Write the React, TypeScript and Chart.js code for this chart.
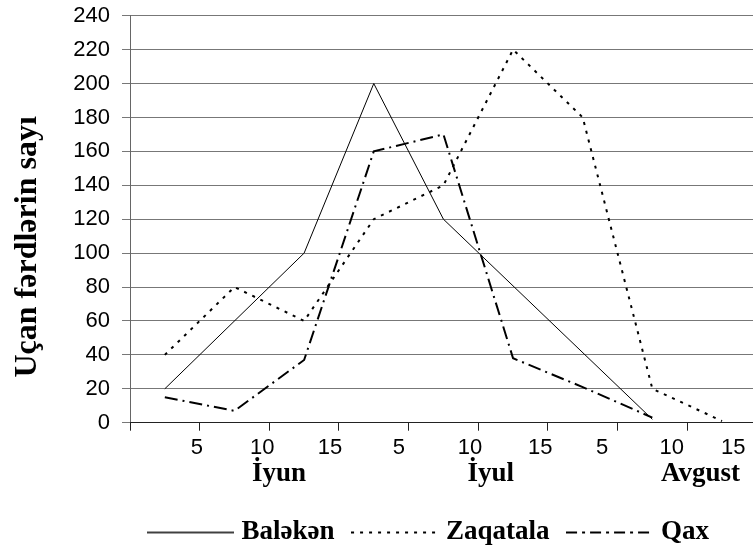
import { useEffect, useRef } from "react";
import { Chart, registerables } from "chart.js";

Chart.register(...registerables);

// Pentads (data points sit between the axis tick marks)
const CATEGORIES = ["1", "2", "3", "4", "5", "6", "7", "8", "9"];
const BALAKEN: (number | null)[] = [20, null, 100, 200, 120, null, null, 2, null];
const ZAQATALA: (number | null)[] = [40, 80, 60, 120, 140, 220, 180, 20, 1];
const QAX: (number | null)[] = [15, 7, 37, 160, 170, 38, 21, 3, null];

const DAY_LABELS = ["5", "10", "15", "5", "10", "15", "5", "10", "15"];
const DAY_LABEL_POS = [0.96, 1.9, 2.87, 3.86, 4.88, 5.89, 6.78, 7.78, 8.66];
const TICK_MARKS = [0, 1, 2, 3, 4, 5, 6, 7, 8];
const MONTHS = ["İyun", "İyul", "Avgust"];
const MONTH_POS = [2.14, 5.18, 8.19];
const Y_TITLE = "Uçan fərdlərin sayı";
const SERIES_NAMES = ["Baləkən", "Zaqatala", "Qax"];

const SANS = "'Liberation Sans', Arial, sans-serif";
const SERIF = "'Liberation Serif', 'Times New Roman', serif";
const X_MAX = 8.945;

const SERIES_DASH: number[][] = [[], [3, 6], [13, 5, 2, 5]];
const SERIES_WIDTH = [1, 2, 2];
const LEGEND_DASH: number[][] = [[], [3, 6], [11, 5, 3, 5]];
const LEGEND_WIDTH = [1.3, 2, 2];

const toPoints = (vals: (number | null)[]) =>
  vals.map((v, i) => ({ x: CATEGORIES.indexOf(CATEGORIES[i]) + 0.5, y: v }));

function legendSample(dash: number[], width: number) {
  const c = document.createElement("canvas");
  c.width = 87;
  c.height = 6;
  const g = c.getContext("2d")!;
  g.strokeStyle = "#000";
  g.lineWidth = width;
  g.setLineDash(dash);
  g.beginPath();
  g.moveTo(0, 3);
  g.lineTo(87, 3);
  g.stroke();
  return c;
}

const yTitlePlugin = {
  id: "yTitlePlugin",
  afterDraw(chart: any) {
    const ctx = chart.ctx;
    const area = chart.chartArea;
    ctx.save();
    ctx.translate(27.5, area.top + (area.bottom - area.top) * 0.568);
    ctx.rotate(-Math.PI / 2);
    ctx.font = `bold 32px ${SERIF}`;
    ctx.fillStyle = "#000";
    ctx.textAlign = "center";
    ctx.textBaseline = "middle";
    ctx.fillText(Y_TITLE, 0, 0);
    ctx.restore();
  },
};

export default function App() {
  const ref = useRef<HTMLCanvasElement | null>(null);

  useEffect(() => {
    if (!ref.current) return;
    const series = [BALAKEN, ZAQATALA, QAX];
    const chart = new Chart(ref.current, {
      type: "line",
      data: {
        datasets: series.map((vals, i) => ({
          label: SERIES_NAMES[i],
          data: toPoints(vals),
          borderColor: "#000",
          backgroundColor: "#000",
          borderWidth: SERIES_WIDTH[i],
          borderDash: SERIES_DASH[i],
          pointRadius: 0,
          pointStyle: legendSample(LEGEND_DASH[i], LEGEND_WIDTH[i]),
          spanGaps: true,
          xAxisID: "x",
        })),
      },
      options: {
        animation: false,
        responsive: true,
        maintainAspectRatio: false,
        layout: { padding: { top: 15.7, left: 0, right: 0, bottom: -8 } },
        plugins: {
          tooltip: { enabled: false },
          legend: {
            position: "bottom",
            fullSize: false,
            align: "start",
            labels: {
              usePointStyle: true,
              pointStyleWidth: 76,
              padding: 22,
              color: "#000",
              font: { family: SERIF, size: 27, weight: "bold" },
            },
          },
        },
        scales: {
          y: {
            min: 0,
            max: 240,
            ticks: {
              stepSize: 20,
              padding: 12,
              color: "#000",
              font: { family: SANS, size: 22, lineHeight: 0.3 },
            },
            grid: { color: "#777", tickLength: 8, lineWidth: 1 },
            border: { color: "#666" },
            afterFit: (s: any) => {
              s.width = 130;
            },
          },
          x: {
            type: "linear",
            axis: "x",
            position: "bottom",
            min: 0,
            max: X_MAX,
            afterBuildTicks: (s: any) => {
              s.ticks = TICK_MARKS.map((v) => ({ value: v }));
            },
            ticks: { display: false },
            grid: { drawOnChartArea: false, drawTicks: true, tickLength: 8, color: "#222" },
            border: { color: "#222" },
            afterFit: (s: any) => {
              s.height = 8;
            },
          },
          xDays: {
            type: "linear",
            axis: "x",
            position: "bottom",
            min: 0,
            max: X_MAX,
            afterBuildTicks: (s: any) => {
              s.ticks = DAY_LABEL_POS.map((v) => ({ value: v }));
            },
            ticks: {
              autoSkip: false,
              maxRotation: 0,
              padding: 4,
              color: "#000",
              font: { family: SANS, size: 22 },
              callback: (_v: any, i: number) => DAY_LABELS[i],
            },
            grid: { display: false, drawTicks: false, tickLength: 0 },
            border: { display: false },
            afterFit: (s: any) => {
              s.height = 26;
            },
          },
          xMonths: {
            type: "linear",
            axis: "x",
            position: "bottom",
            min: 0,
            max: X_MAX,
            afterBuildTicks: (s: any) => {
              s.ticks = MONTH_POS.map((v) => ({ value: v }));
            },
            ticks: {
              autoSkip: false,
              maxRotation: 0,
              padding: 1,
              color: "#000",
              font: { family: SERIF, size: 27, weight: "bold" },
              callback: (_v: any, i: number) => MONTHS[i],
            },
            grid: { display: false, drawTicks: false, tickLength: 0 },
            border: { display: false },
            afterFit: (s: any) => {
              s.height = 40.3;
            },
          },
        },
      },
      plugins: [yTitlePlugin],
    } as any);
    return () => chart.destroy();
  }, []);

  return (
    <div style={{ position: "absolute", left: 0, top: 0, width: 753, height: 548, background: "#fff" }}>
      <canvas ref={ref} />
    </div>
  );
}
